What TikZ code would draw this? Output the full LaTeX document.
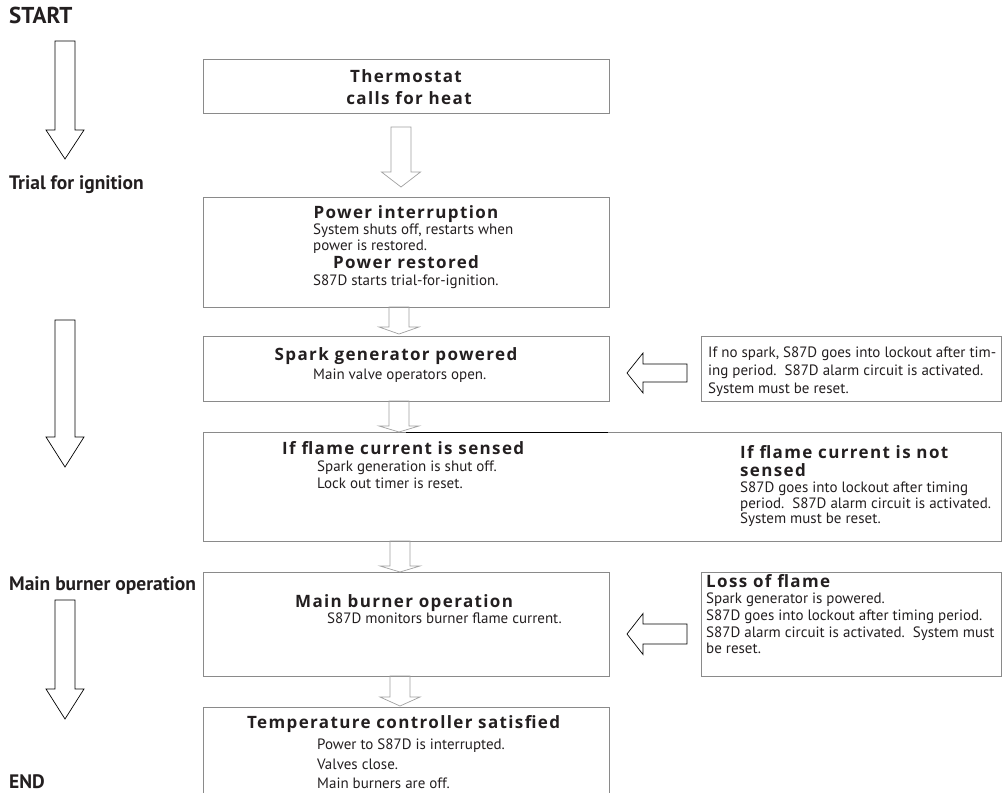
\documentclass[tikz,border=0pt]{standalone}
\usepackage{fontspec}
\setmainfont{PT Sans}
\newfontfamily\hdfont[LetterSpace=8]{Open Sans}
\definecolor{boxgray}{HTML}{8A8A8A}
\definecolor{arrgray}{HTML}{A0A0A0}
\definecolor{ink}{HTML}{231F20}
\newcommand\blockdn[7]{\draw[#1] ({#2-#3},#4) -- ({#2-#3},#5) -- ({#2-#6},#5) -- (#2,#7) -- ({#2+#6},#5) -- ({#2+#3},#5) -- ({#2+#3},#4) -- cycle;}
\newcommand\blocklt[7]{\draw[#1] (#7,{#3-#6}) -- (#4,{#3-#6}) -- (#4,{#3-#5}) -- (#2,#3) -- (#4,{#3+#5}) -- (#4,{#3+#6}) -- (#7,{#3+#6}) -- cycle;}
\begin{document}
\begin{tikzpicture}[x=1pt,y=-1pt,
  box/.style={draw=boxgray, line width=0.9pt, inner sep=0pt, anchor=north west},
  big/.style={draw=black, line width=0.7pt},
  sm/.style={draw=arrgray, line width=0.7pt},
  t/.style={inner sep=0pt, anchor=west, text height=0.72em, text depth=0.2em, text=ink, yshift=-3pt},
  hd/.style={t, font=\hdfont\bfseries\fontsize{17}{20}\selectfont},
  hdc/.style={hd, anchor=center},
  bd/.style={t, font=\fontsize{15}{18}\selectfont},
  lab/.style={t, font=\bfseries\fontsize{19.5}{22}\selectfont}]
\useasboundingbox (0,0) rectangle (1002,793);
\clip (0,0) rectangle (1002,793);
% left labels
\node[lab, font=\bfseries\fontsize{23}{25}\selectfont] (start) at (9,18) {START};
\node[lab] (trial) at (9,184) {Trial for ignition};
\node[lab] (mainop) at (9,585) {Main burner operation};
\node[lab] (end) at (9,783) {END};
% left big arrows
\blockdn{big}{65}{10}{41}{130}{19}{159}
\blockdn{big}{65}{10}{320}{437}{19}{467}
\blockdn{big}{65}{10}{600}{689}{19}{719}
% boxes
\node[box, minimum width=406pt, minimum height=54pt] (b1) at (203,59) {};
\node[box, minimum width=406pt, minimum height=110pt] (b2) at (203,197) {};
\node[box, minimum width=406pt, minimum height=65pt] (b3) at (203,336) {};
\node[box, minimum width=797.5pt, minimum height=109pt] (b4) at (203,432) {};
\node[box, minimum width=406pt, minimum height=104pt] (b5) at (203,572) {};
\node[box, minimum width=406pt, minimum height=110pt] (b6) at (203,707) {};
\node[box, minimum width=299.5pt, minimum height=65pt] (s1) at (701,336) {};
\node[box, minimum width=299.5pt, minimum height=104pt] (s2) at (701,572) {};
\draw[black, line width=0.9pt] (406,432) -- (608,432);
% small arrows
\blockdn{sm}{401}{10}{127}{172}{19.5}{187}
\blockdn{sm}{399}{10}{307}{327}{20}{334}
\blockdn{sm}{399}{10}{401}{426}{20}{432}
\blockdn{sm}{400}{10}{541}{566}{20}{572}
\blockdn{sm}{400}{10}{676}{697}{20}{706}
\blocklt{big}{627}{373}{643}{20}{9}{687}
\blocklt{big}{627}{634}{643}{20.5}{10}{687}
% box 1
\node[hdc] (t1a) at (406,77) {Thermostat};
\node[hdc] (t1b) at (409,99) {calls for heat};
% box 2
\node[hdc] (t2a) at (406,213) {Power interruption};
\node[bd] (t2b) at (313,229) {System shuts off, restarts when};
\node[bd] (t2c) at (313,245) {power is restored.};
\node[hdc] (t2d) at (406,263) {Power restored};
\node[bd] (t2e) at (313,280) {S87D starts trial-for-ignition.};
% box 3
\node[hdc] (t3a) at (396,355) {Spark generator powered};
\node[bd] (t3b) at (313,374) {Main valve operators open.};
% side 1
\node[bd] (s1a) at (708,352) {If no spark, S87D goes into lockout after tim-};
\node[bd] (s1b) at (708,370) {ing period.\ \ S87D alarm circuit is activated.};
\node[bd] (s1c) at (708,388) {System must be reset.};
% box 4
\node[hd] (t4a) at (282,449) {If flame current is sensed};
\node[bd] (t4b) at (317,466) {Spark generation is shut off.};
\node[bd] (t4c) at (317,483) {Lock out timer is reset.};
\node[hd] (t4d) at (740,453) {If flame current is not};
\node[hd] (t4e) at (740,471) {sensed};
\node[bd] (t4f) at (740,487) {S87D goes into lockout after timing};
\node[bd] (t4g) at (740,503) {period.\ \ S87D alarm circuit is activated.};
\node[bd] (t4h) at (740,518) {System must be reset.};
% box 5
\node[hd] (t5a) at (295,602) {Main burner operation};
\node[bd] (t5b) at (327,618) {S87D monitors burner flame current.};
% side 2
\node[hd] (s2a) at (706,582) {Loss of flame};
\node[bd] (s2b) at (706,598) {Spark generator is powered.};
\node[bd] (s2c) at (706,615) {S87D goes into lockout after timing period.};
\node[bd] (s2d) at (706,632) {S87D alarm circuit is activated.\ \ System must};
\node[bd] (s2e) at (706,648) {be reset.};
% box 6
\node[hd] (t6a) at (247,723) {Temperature controller satisfied};
\node[bd] (t6b) at (317,744) {Power to S87D is interrupted.};
\node[bd] (t6c) at (317,764) {Valves close.};
\node[bd] (t6d) at (317,783) {Main burners are off.};
\end{tikzpicture}
\end{document}
